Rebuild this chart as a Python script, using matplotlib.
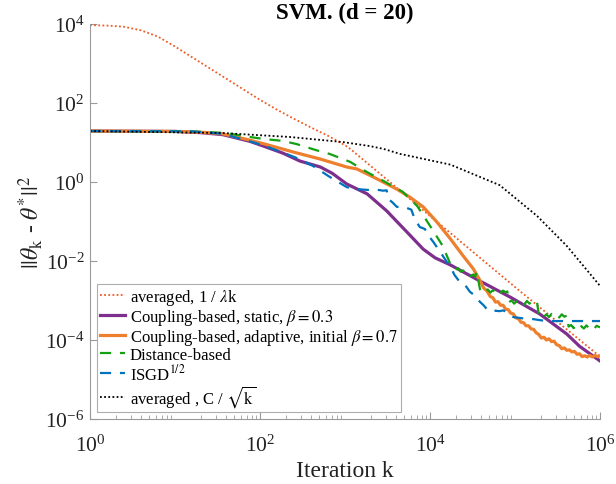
import numpy as np
import matplotlib
matplotlib.use("Agg")
import matplotlib.pyplot as plt

plt.rcParams['font.family'] = ['Liberation Serif', 'DejaVu Serif']
plt.rcParams['mathtext.fontset'] = 'stix'

# ---- data (log10 of iteration k, log10 of error) ----
avg_lam_logk = [0.0, 0.2, 0.4, 0.6, 0.8, 1.0, 1.2, 1.4, 1.6, 1.8, 2.0, 2.2, 2.4, 2.6, 2.8, 3.0, 3.06,
                3.5, 4.0, 4.5, 5.0, 5.5, 6.0]
avg_lam_loge = [3.97, 3.96, 3.93, 3.84, 3.68, 3.43, 3.16, 2.89, 2.62, 2.35, 2.08, 1.83, 1.60, 1.38, 1.17, 0.93, 0.84,
                0.05, -0.86, -1.76, -2.66, -3.54, -4.42]

static_logk = [0.0, 1.0, 1.3, 1.56, 1.88, 2.04, 2.27, 2.47, 2.71, 2.85, 3.02, 3.26, 3.49, 3.73, 3.92, 4.06, 4.24,
               4.59, 4.94, 5.29, 5.61, 5.76, 6.0]
static_loge = [1.29, 1.28, 1.25, 1.20, 1.03, 0.91, 0.73, 0.53, 0.38, 0.22, -0.05, -0.30, -0.73, -1.27, -1.70, -1.92, -2.10,
               -2.51, -2.91, -3.34, -3.85, -4.16, -4.53]

adapt_logk = [0.0, 1.0, 1.3, 1.56, 1.88, 2.04, 2.39, 2.71, 3.02, 3.14, 3.33, 3.61, 3.76, 3.92, 4.08, 4.24, 4.39, 4.51,
              4.59, 4.63, 4.67, 4.71, 4.74, 4.77, 4.80, 4.83, 4.86, 4.89, 4.92, 4.95, 4.98, 5.01, 5.04, 5.07, 5.10,
              5.13, 5.16, 5.19, 5.22, 5.25, 5.28, 5.31, 5.34, 5.37, 5.40, 5.43, 5.46, 5.49, 5.52, 5.55, 5.58, 5.61,
              5.64, 5.67, 5.70, 5.73, 5.76, 5.79, 5.82, 5.85, 5.88, 5.91, 5.94, 5.97, 6.0]
adapt_loge = [1.29, 1.28, 1.26, 1.22, 1.06, 0.97, 0.76, 0.58, 0.38, 0.33, 0.13, -0.18, -0.38, -0.63, -1.01, -1.44, -1.87, -2.20,
              -2.50, -2.68, -2.76, -2.90, -2.93, -3.04, -3.03, -3.12, -3.12, -3.22, -3.23, -3.32, -3.34, -3.44, -3.46, -3.55, -3.56,
              -3.64, -3.64, -3.72, -3.73, -3.82, -3.86, -3.95, -3.93, -4.00, -3.97, -4.04, -4.03, -4.12, -4.14, -4.22, -4.20, -4.26,
              -4.25, -4.30, -4.29, -4.36, -4.35, -4.42, -4.40, -4.43, -4.39, -4.43, -4.39, -4.42, -4.40]

dist_logk = [0.0, 1.2, 1.6, 1.88, 2.04, 2.27, 2.43, 2.67, 2.82, 3.06, 3.26, 3.45, 3.68, 3.85, 4.0, 4.15, 4.24,
             4.27, 4.30, 4.33, 4.36, 4.39, 4.42, 4.45, 4.48, 4.51, 4.53, 4.55, 4.57, 4.59,
             4.62, 4.65, 4.68, 4.71, 4.74, 4.77, 4.80, 4.83, 4.86, 4.89, 4.91, 4.93,
             4.96, 4.99, 5.02, 5.05, 5.08, 5.11, 5.14, 5.17, 5.20, 5.23, 5.26, 5.28,
             5.31, 5.34, 5.37, 5.40, 5.43, 5.46, 5.49, 5.52, 5.55, 5.58, 5.61, 5.63,
             5.66, 5.69, 5.72, 5.75, 5.78, 5.81, 5.84, 5.87, 5.90, 5.93, 5.96, 6.0]
dist_loge = [1.29, 1.28, 1.24, 1.14, 1.09, 1.04, 0.96, 0.80, 0.71, 0.51, 0.25, 0.03, -0.25, -0.61, -1.11, -1.62, -2.08,
             -2.16, -2.22, -2.18, -2.27, -2.24, -2.33, -2.30, -2.38, -2.34, -2.40, -2.27, -2.50, -2.74,
             -2.70, -2.78, -2.72, -2.80, -2.74, -2.79, -2.71, -2.80, -2.75, -2.79, -2.77, -3.04,
             -3.00, -3.08, -3.02, -3.09, -3.03, -3.10, -3.01, -3.08, -3.03, -3.10, -3.05, -3.37,
             -3.33, -3.41, -3.35, -3.42, -3.34, -3.40, -3.36, -3.43, -3.35, -3.41, -3.38, -3.66,
             -3.62, -3.70, -3.64, -3.72, -3.65, -3.71, -3.63, -3.70, -3.66, -3.72, -3.64, -3.68]

isgd_logk = [0.0, 1.2, 1.56, 1.88, 2.04, 2.2, 2.42, 2.62, 2.82, 2.92, 3.02, 3.14, 3.26, 3.36, 3.45, 3.49, 3.51, 3.56,
             3.61, 3.67, 3.73, 3.78, 3.82, 3.88, 3.94, 3.98, 4.04, 4.12, 4.2, 4.24, 4.29, 4.35, 4.41, 4.47, 4.53,
             4.59, 4.63, 4.67, 4.72, 4.77, 4.82, 4.86, 4.9, 4.94, 4.98, 5.05, 5.12, 5.21, 5.3, 5.38, 6.0]
isgd_loge = [1.29, 1.28, 1.22, 1.03, 0.93, 0.80, 0.62, 0.41, 0.13, 0.00, -0.13, -0.18, -0.20, -0.19, -0.22, -0.21, -0.43, -0.52,
             -0.63, -0.62, -0.66, -0.70, -0.94, -1.14, -1.19, -1.35, -1.52, -1.77, -2.03, -2.15, -2.36, -2.53, -2.60, -2.78, -2.88,
             -3.04, -3.12, -3.22, -3.20, -3.26, -3.27, -3.25, -3.29, -3.36, -3.42, -3.44, -3.46, -3.47, -3.50, -3.52, -3.52]

avg_sqrt_logk = [0.0, 1.56, 2.35, 2.98, 3.29, 3.45, 3.65, 4.24, 4.82, 5.26, 5.61, 6.0]
avg_sqrt_loge = [1.29, 1.24, 1.14, 1.01, 0.91, 0.84, 0.71, 0.44, -0.08, -0.86, -1.62, -2.63]

labels = ['averaged, 1 / $\\lambda$k',
          'Coupling-based, static, $\\beta = 0.3$',
          'Coupling-based, adaptive, initial $\\beta = 0.7$',
          'Distance-based',
          'ISGD$^{1/2}$',
          'averaged , C / $\\sqrt{\\mathrm{k}}$']


def p(v):
    return np.power(10.0, np.asarray(v, dtype=float))


fig = plt.figure(figsize=(6.16, 4.85), dpi=100)
ax = fig.add_axes([90/616, 65/485, 510/616, 395/485])

ax.plot(p(avg_lam_logk), p(avg_lam_loge), ls=(0, (1, 1.3)), color='#EE5A24', lw=1.3, label=labels[0])
ax.plot(p(static_logk), p(static_loge), '-', color='#7E2F8E', lw=2.3, label=labels[1])
ax.plot(p(adapt_logk), p(adapt_loge), '-', color='#EE7F2D', lw=2.3, label=labels[2])
ax.plot(p(dist_logk), p(dist_loge), ls=(0, (5, 4)), color='#13A013', lw=1.6, label=labels[3])
ax.plot(p(isgd_logk), p(isgd_loge), ls=(0, (5, 4)), color='#0072BD', lw=1.6, label=labels[4])
ax.plot(p(avg_sqrt_logk), p(avg_sqrt_loge), ls=(0, (1, 1.3)), color='black', lw=1.3, label=labels[5])

ax.set_xscale('log')
ax.set_yscale('log')
ax.set_xlim(1, 1e6)
ax.set_ylim(1e-6, 1e4)
ax.set_xticks([1, 1e2, 1e4, 1e6])
ax.set_yticks([1e-6, 1e-4, 1e-2, 1, 1e2, 1e4])

for s in ['top', 'right']:
    ax.spines[s].set_visible(False)
for s in ['left', 'bottom']:
    ax.spines[s].set_color('#9a9a9a')
    ax.spines[s].set_linewidth(0.8)
ax.tick_params(which='both', direction='in', color='#9a9a9a', labelsize=15.5, labelcolor='#222222')
ax.tick_params(which='major', length=5)
ax.tick_params(which='minor', length=3)
ax.tick_params(axis='x', pad=11)
ax.tick_params(axis='y', pad=4)

ax.set_xlabel('Iteration k', fontsize=17, color='#222222', labelpad=3)
ax.set_ylabel('$||\\theta_{\\mathrm{k}}$ - $\\theta^{*}||^{2}$', fontsize=17, color='#222222', labelpad=0)
ax.set_title('SVM. (d = 20)', fontsize=16.5, fontweight='bold', pad=4)

leg = ax.legend(loc='lower left', fontsize=12, frameon=True, fancybox=False, handlelength=1.5,
                handletextpad=0.3, labelspacing=0.0, borderpad=0.2, borderaxespad=0.4)
leg.get_frame().set_edgecolor('#9a9a9a')
leg.get_frame().set_linewidth(0.8)

fig.savefig('out.png', dpi=100)
